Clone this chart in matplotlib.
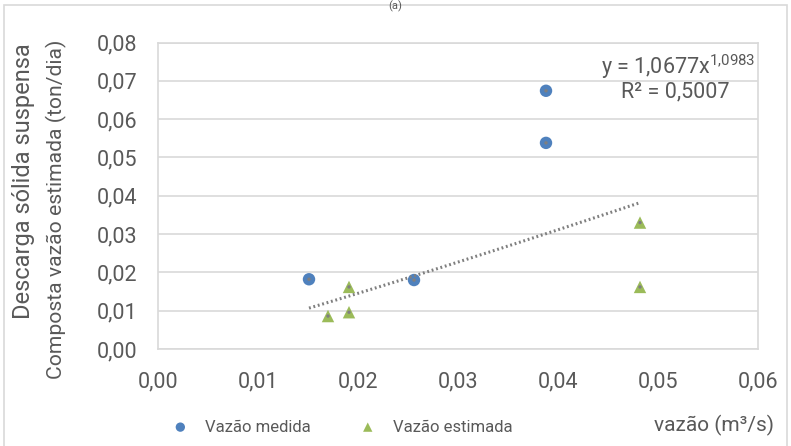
import numpy as np
import matplotlib
matplotlib.use("Agg")
import matplotlib.pyplot as plt
from matplotlib.ticker import FuncFormatter, MultipleLocator
from matplotlib.patches import Rectangle

plt.rcParams['font.family'] = ['Roboto', 'DejaVu Sans']
plt.rcParams['mathtext.fontset'] = 'custom'
plt.rcParams['mathtext.rm'] = 'Roboto'
plt.rcParams['mathtext.default'] = 'regular'

# measured discharge
medida_x = [0.0151, 0.0256, 0.0388, 0.0388]
medida_y = [0.0182, 0.0180, 0.0674, 0.0538]

# estimated discharge
estimada_x = [0.0170, 0.0191, 0.0191, 0.0482, 0.0482]
estimada_y = [0.0086, 0.0162, 0.0096, 0.0162, 0.0330]

# power trendline y = a * x^b
coef_a = 1.0677
coef_b = 1.0983
r2 = 0.5007

text_col = '#595959'
grid_col = '#d9d9d9'

fig = plt.figure(figsize=(7.91, 4.46), dpi=100)
ax = fig.add_axes([158 / 791, 1 - 349 / 446, 600 / 791, 306.5 / 446])

ax.set_xlim(0, 0.06)
ax.set_ylim(0, 0.08)
ax.xaxis.set_major_locator(MultipleLocator(0.01))
ax.yaxis.set_major_locator(MultipleLocator(0.01))
fmt = FuncFormatter(lambda v, p: f'{v:.2f}'.replace('.', ','))
ax.xaxis.set_major_formatter(fmt)
ax.yaxis.set_major_formatter(fmt)
ax.tick_params(length=0, labelsize=15.5, labelcolor=text_col)
ax.tick_params(axis='y', pad=15)
ax.tick_params(axis='x', pad=16)
ax.grid(axis='y', color=grid_col, lw=1.2)
ax.set_axisbelow(True)
for s in ax.spines.values():
    s.set_color(grid_col)
    s.set_linewidth(1.2)

all_x = np.array(medida_x + estimada_x)
all_y = np.array(medida_y + estimada_y)

ax.scatter(medida_x, medida_y, s=80, marker='o', color='#4f81bd',
           edgecolors='none', label='Vazão medida', zorder=3)
ax.scatter(estimada_x, estimada_y, s=80, marker='^', color='#9bbb59',
           edgecolors='none', label='Vazão estimada', zorder=3)
ax.scatter(all_x, all_y, s=6, color='#7f7f7f', edgecolors='none', zorder=4)

xt = np.linspace(all_x.min(), all_x.max(), 100)
ax.plot(xt, coef_a * xt ** coef_b, color='#7f7f7f', lw=2.2,
        linestyle=(0, (0.6, 0.9)), zorder=5)

ax.text(755, 446 - 74, r'y = 1,0677x$^{1{,}0983}$', transform=None,
        ha='right', va='baseline', fontsize=15.5, color=text_col)
ax.text(675, 446 - 97, f'R² = {r2:.4f}'.replace('.', ','), transform=None,
        ha='center', va='baseline', fontsize=15.5, color=text_col)

# axis titles
fig.text(24 / 791, 1 - 43 / 446, 'Descarga sólida suspensa', rotation=90,
         rotation_mode='anchor', ha='right', va='center', fontsize=17,
         color=text_col)
fig.text(56 / 791, 1 - 40 / 446, 'Composta vazão estimada (ton/dia)',
         rotation=90, rotation_mode='anchor', ha='right', va='center',
         fontsize=15.2, color=text_col)
fig.text(774 / 791, 1 - 425 / 446, 'vazão (m³/s)', ha='right', va='center',
         fontsize=15, color=text_col)

fig.text(395 / 791, 1 - 1 / 446, '(a)', ha='center', va='top',
         fontsize=8, color=text_col)

fig.legend(loc='center left', bbox_to_anchor=(172 / 791, 1 - 427 / 446),
           ncol=2, frameon=False, fontsize=12, markerscale=0.75,
           handlelength=1.0, handletextpad=1.0, columnspacing=2.9,
           borderpad=0, borderaxespad=0, labelcolor=text_col)

# chart border
fig.patches.append(Rectangle((4 / 791, -0.01), 783 / 791, 1 - 5 / 446 + 0.01,
                             transform=fig.transFigure, fill=False,
                             edgecolor=grid_col, lw=1.2))

fig.savefig('out.png', dpi=100)
